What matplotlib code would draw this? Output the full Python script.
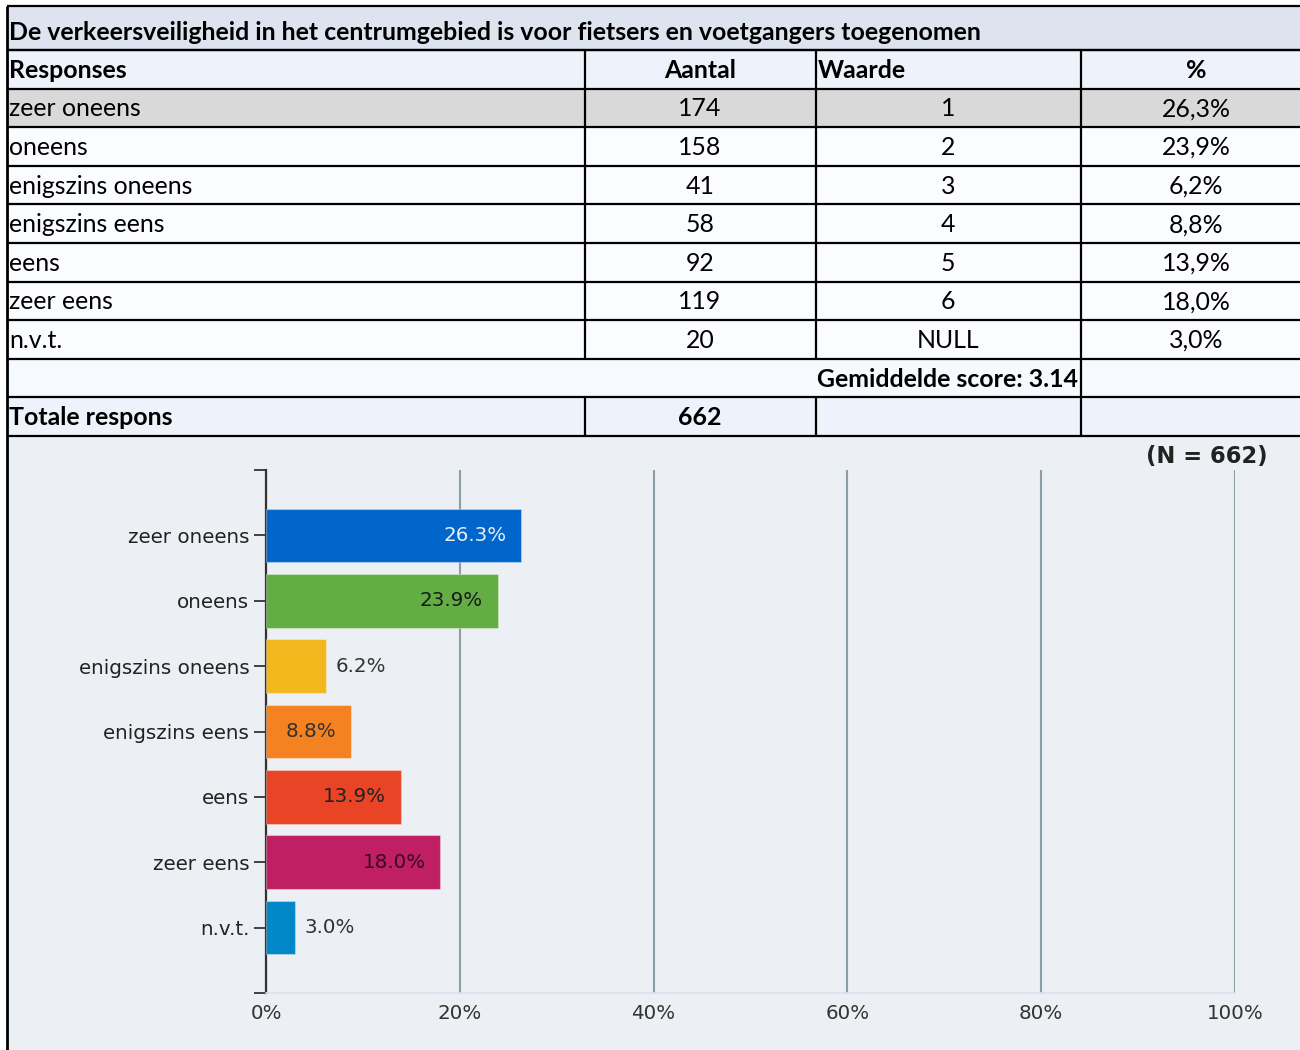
import matplotlib
matplotlib.use("Agg")
import matplotlib.pyplot as plt
from matplotlib.patches import Rectangle

# ---------------- data ----------------
title = "De verkeersveiligheid in het centrumgebied is voor fietsers en voetgangers toegenomen"
headers = ["Responses", "Aantal", "Waarde", "%"]
responses = ["zeer oneens", "oneens", "enigszins oneens", "enigszins eens", "eens", "zeer eens", "n.v.t."]
counts = [174, 158, 41, 58, 92, 119, 20]
waarde = ["1", "2", "3", "4", "5", "6", "NULL"]
pct_table = ["26,3%", "23,9%", "6,2%", "8,8%", "13,9%", "18,0%", "3,0%"]
pct_values = [26.3, 23.9, 6.2, 8.8, 13.9, 18.0, 3.0]
mean_label = "Gemiddelde score: 3.14"
total_label = "Totale respons"
total_count = 662
n_label = "(N = 662)"
x_ticks = [0, 20, 40, 60, 80, 100]
x_tick_labels = ["0%", "20%", "40%", "60%", "80%", "100%"]
bar_colors = ["#0066cc", "#63ad45", "#f2b81e", "#f58220", "#e84425", "#c01f64", "#0088c8"]

W, H = 1300, 1050
fig = plt.figure(figsize=(W / 100, H / 100), dpi=100)
fig.patch.set_facecolor("white")

# overlay axes in pixel coordinates for the table
ov = fig.add_axes([0, 0, 1, 1], zorder=0)
ov.set_xlim(0, W)
ov.set_ylim(H, 0)
ov.axis("off")

TF = "Lato"
tfs = 17.9

col_x = [7, 585, 816, 1081, 1310]
title_top, title_bot = 6, 50
row_h = 38.6
header_top = 50
rows_top = [header_top + i * row_h for i in range(11)]  # header, 7 rows, mean, total, end
chart_top = rows_top[10]

# backgrounds
ov.add_patch(Rectangle((7, title_top), W, title_bot - title_top, facecolor="#dde4f0", edgecolor="none"))
ov.add_patch(Rectangle((7, rows_top[0]), W, row_h, facecolor="#eef2fa", edgecolor="none"))
for i in range(7):
    fc = "#d9d9d9" if i == 0 else "#fbfcff"
    ov.add_patch(Rectangle((7, rows_top[1 + i]), W, row_h, facecolor=fc, edgecolor="none"))
ov.add_patch(Rectangle((7, rows_top[8]), W, row_h, facecolor="#f6f9fd", edgecolor="none"))
ov.add_patch(Rectangle((7, rows_top[9]), W, row_h, facecolor="#eef2fa", edgecolor="none"))
ov.add_patch(Rectangle((7, chart_top), W, H - chart_top, facecolor="#eceff3", edgecolor="none"))

lc = "black"
lw = 1.6
# horizontal lines
for y in [title_top, title_bot] + rows_top:
    ov.plot([7, W], [y, y], color=lc, lw=lw, solid_capstyle="butt")
# left border
ov.plot([7, 7], [title_top, H], color=lc, lw=2.0, solid_capstyle="butt")
# vertical separators
for r in [0, 1, 2, 3, 4, 5, 6, 7, 9]:
    for cx in col_x[1:4]:
        ov.plot([cx, cx], [rows_top[r], rows_top[r + 1]], color=lc, lw=lw, solid_capstyle="butt")
ov.plot([col_x[3], col_x[3]], [rows_top[8], rows_top[9]], color=lc, lw=lw, solid_capstyle="butt")

def cy(r):
    return rows_top[r] + row_h / 2 + 1

ov.text(9, (title_top + title_bot) / 2 + 4, title, fontfamily=TF, fontsize=tfs, fontweight="bold",
        ha="left", va="center", color="black")
ov.text(9, cy(0), headers[0], fontfamily=TF, fontsize=tfs, fontweight="bold", ha="left", va="center")
ov.text(700, cy(0), headers[1], fontfamily=TF, fontsize=tfs, fontweight="bold", ha="center", va="center")
ov.text(818, cy(0), headers[2], fontfamily=TF, fontsize=tfs, fontweight="bold", ha="left", va="center")
ov.text(1196, cy(0), headers[3], fontfamily=TF, fontsize=tfs, fontweight="bold", ha="center", va="center")
for i in range(7):
    ov.text(9, cy(1 + i), responses[i], fontfamily=TF, fontsize=tfs, ha="left", va="center")
    ov.text(700, cy(1 + i), str(counts[i]), fontfamily=TF, fontsize=tfs, ha="center", va="center")
    ov.text(948, cy(1 + i), waarde[i], fontfamily=TF, fontsize=tfs, ha="center", va="center")
    ov.text(1196, cy(1 + i), pct_table[i], fontfamily=TF, fontsize=tfs, ha="center", va="center")
ov.text(1078, cy(8), mean_label, fontfamily=TF, fontsize=tfs, fontweight="bold", ha="right", va="center")
ov.text(9, cy(9), total_label, fontfamily=TF, fontsize=tfs, fontweight="bold", ha="left", va="center")
ov.text(700, cy(9), str(total_count), fontfamily=TF, fontsize=tfs, fontweight="bold", ha="center", va="center")

# ---------------- chart ----------------
CF = "DejaVu Sans"
cfs = 14.3
left_px, right_px, top_px, bot_px = 266, 1235, 470, 993
ax = fig.add_axes([left_px / W, 1 - bot_px / H, (right_px - left_px) / W, (bot_px - top_px) / H], zorder=2)
ax.set_facecolor("none")
ypos = list(range(len(responses)))
bars = ax.barh(ypos, pct_values, height=0.82, color=bar_colors, edgecolor="#ffffff55", linewidth=0.8, zorder=3)
ax.set_xlim(0, 100)
ax.set_ylim(7, -1)
ax.set_xticks(x_ticks)
ax.set_xticklabels(x_tick_labels, fontfamily=CF, fontsize=cfs, color="#333333")
ax.set_yticks(ypos)
ax.set_yticklabels(responses, fontfamily=CF, fontsize=cfs, color="#222222")
ax.set_yticks([-1, 7], minor=True)
ax.tick_params(axis="y", which="both", length=9, width=1.3, color="#333333", pad=3)
ax.tick_params(axis="x", length=0, pad=8)
ax.grid(axis="x", color="#8e9ea8", lw=1.5, zorder=1)
ax.set_axisbelow(True)
for s in ["top", "right"]:
    ax.spines[s].set_visible(False)
ax.spines["left"].set_color("#333333")
ax.spines["left"].set_linewidth(1.6)
ax.spines["bottom"].set_color("#d9e0ee")
ax.spines["bottom"].set_linewidth(1.2)

label_colors = ["#e6eef9", "#1a1a1a", "#333333", "#333333", "#222222", "#3a0a20", "#333333"]
for i, v in enumerate(pct_values):
    txt = f"{v:.1f}%"
    if v > 8:
        ax.text(v - 1.5, i, txt, ha="right", va="center", fontfamily=CF, fontsize=cfs, color=label_colors[i], zorder=4)
    else:
        ax.text(v + 1.0, i, txt, ha="left", va="center", fontfamily=CF, fontsize=cfs, color=label_colors[i], zorder=4)

ov.text(1268, 456, n_label, fontfamily=CF, fontsize=16.3, fontweight="bold", ha="right", va="center", color="#222222")

fig.savefig("out.png", dpi=100)
